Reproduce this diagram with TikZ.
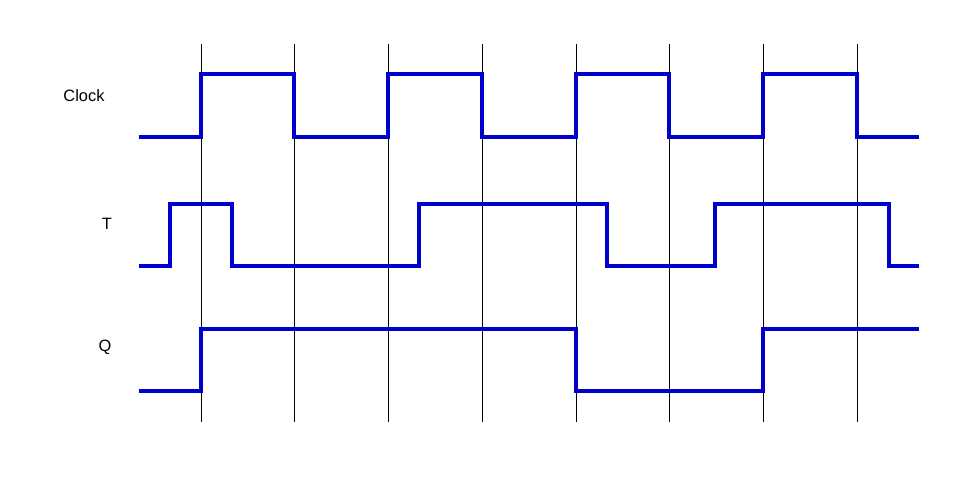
\documentclass[tikz,border=0pt]{standalone}
\usepackage{fontspec}
\setmainfont{Liberation Sans}
\definecolor{wave}{RGB}{0,0,204}
\begin{document}
\begin{tikzpicture}[x=0.75pt,y=-0.75pt,
  grid/.style={black,line width=0.6pt},
  signal/.style={wave,line width=2.6pt,line join=miter},
  lbl/.style={font=\fontsize{12.3}{14}\selectfont,inner sep=0pt}]
\useasboundingbox (0,0) rectangle (960,500);
\fill[white] (0,0) rectangle (960,500);
% vertical clock-edge lines
\foreach \x in {201,294,388,482,576,669,763,857}
  \draw[grid] (\x,44) -- (\x,422);
% labels
\node[lbl] (clk) at (84,96) {Clock};
\node[lbl] (t) at (107,224) {T};
\node[lbl] (q) at (105,347) {Q};
% Clock
\draw[signal] (139,137) -- (201,137) -- (201,74) -- (294,74) -- (294,137)
  -- (388,137) -- (388,74) -- (482,74) -- (482,137) -- (576,137) -- (576,74)
  -- (669,74) -- (669,137) -- (763,137) -- (763,74) -- (857,74) -- (857,137) -- (919,137);
% T
\draw[signal] (139,266) -- (170,266) -- (170,204) -- (232,204) -- (232,266)
  -- (419,266) -- (419,204) -- (607,204) -- (607,266) -- (715,266) -- (715,204)
  -- (889,204) -- (889,266) -- (919,266);
% Q
\draw[signal] (139,391) -- (201,391) -- (201,329) -- (576,329) -- (576,391)
  -- (763,391) -- (763,329) -- (919,329);
\end{tikzpicture}
\end{document}
